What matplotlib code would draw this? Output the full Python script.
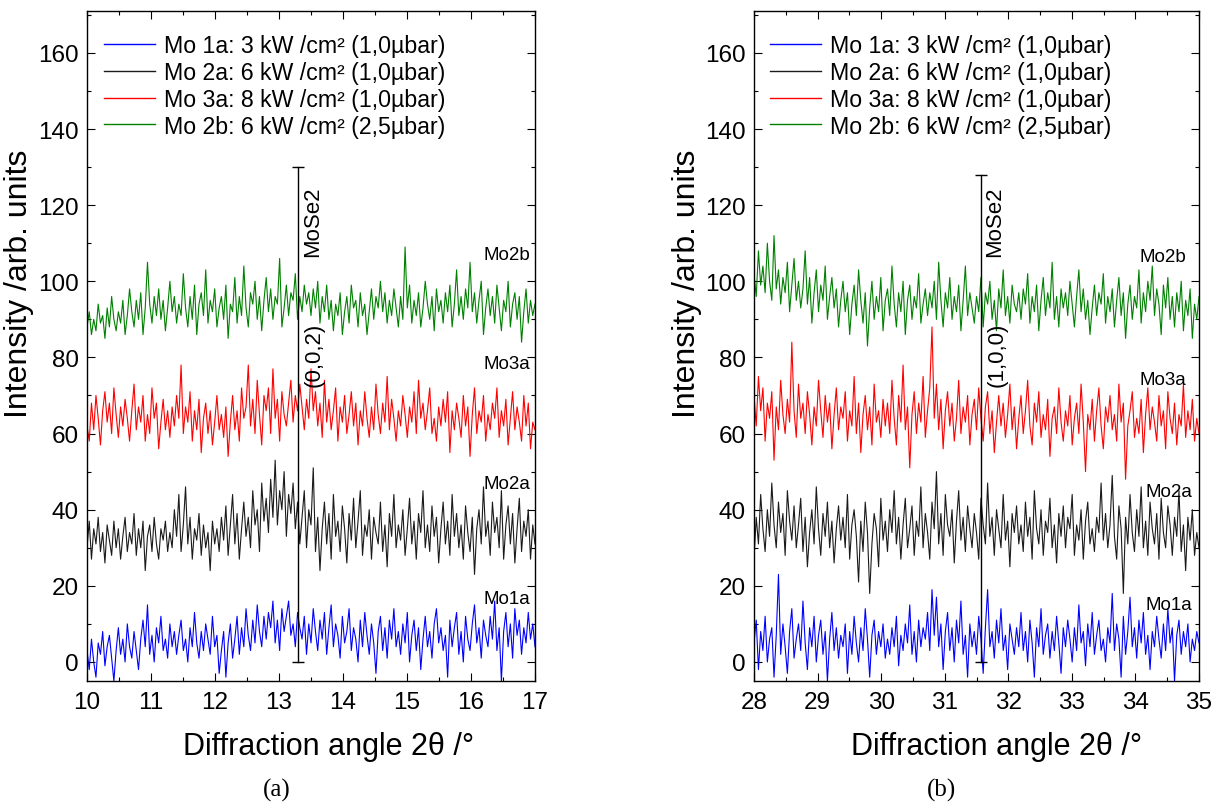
import numpy as np
import matplotlib
matplotlib.use("Agg")
import matplotlib.pyplot as plt
from matplotlib.ticker import MultipleLocator

plt.rcParams['font.family'] = ['Liberation Sans', 'DejaVu Sans']

# ---- scan ranges (2theta, degrees) ----
range_a = (10.0, 17.0)
range_b = (28.0, 35.0)
step = 0.035

# ---- panel (a): 10-17 deg ----
mo1a_a = [3, -2, 6, 0, -4, 5, 2, 8, -1, 4, 7, 1, -5, 3, 9, 2, 6, 0, 10, 4,
          1, 8, 3, -2, 6, 11, 4, 15, 2, 7, 0, 9, 5, 12, 3, 6, 1, 10, 4, 8,
          2, 7, 11, 3, 6, 0, 9, 4, 13, 5, 1, 8, 3, 10, 6, 2, 12, 4, 7, -3,
          3, 8, -4, 5, 10, 1, 6, 12, 2, 9, 4, 14, 7, 3, 11, 5, 15, 8, 4, 12,
          6, 13, 9, 16, 5, 11, 3, 14, 8, 12, 16, 7, 10, 4, 13, 9, 6, 12, 2, 10,
          5, 14, 8, 3, 11, 6, 13, 2, 9, 15, 4, 10, 7, 1, 12, 5, 8, 14, 3, 9,
          6, 0, 11, 4, 13, 7, 2, 10, 5, -3, 8, 12, 3, 9, 1, 11, 6, 14, 4, 8,
          2, 10, 5, 13, 0, 7, 11, 3, 9, -2, 6, 12, 4, 8, 1, 10, 14, 5, 9, 3,
          7, -4, 11, 4, 9, 13, 2, 8, 0, 12, 6, 3, 10, 15, 5, 9, 1, 11, 7, 4,
          12, 6, 16, 3, 9, -5, 8, 13, 4, 10, 1, 14, 7, 11, 2, 9, 5, 13, 6, 10,
          4]
mo2a_a = [30, 37, 27, 35, 31, 38, 29, 34, 26, 36, 32, 28, 37, 30, 35, 27, 33, 38, 29, 34,
          31, 39, 28, 35, 30, 37, 24, 33, 36, 29, 38, 31, 27, 35, 32, 37, 29, 34, 30, 40,
          33, 44, 29, 36, 46, 31, 38, 27, 35, 32, 39, 28, 36, 30, 34, 24, 37, 31, 35, 29,
          38, 32, 41, 28, 36, 44, 31, 39, 27, 35, 42, 33, 38, 30, 45, 36, 40, 29, 47, 37,
          43, 34, 48, 38, 53, 36, 45, 40, 50, 33, 44, 39, 47, 35, 42, 31, 38, 45, 30, 40,
          36, 51, 29, 38, 24, 35, 42, 31, 39, 27, 44, 33, 37, 29, 41, 35, 26, 39, 32, 43,
          30, 37, 45, 28, 36, 33, 40, 27, 38, 34, 31, 42, 29, 36, 25, 39, 33, 44, 30, 36,
          32, 40, 28, 35, 43, 31, 37, 27, 39, 34, 45, 30, 36, 29, 41, 33, 38, 26, 35, 42,
          31, 37, 28, 44, 33, 39, 30, 36, 27, 41, 34, 29, 38, 23, 35, 40, 31, 46, 33, 37,
          28, 42, 34, 38, 30, 45, 27, 36, 41, 31, 39, 26, 35, 43, 29, 37, 33, 40, 27, 36,
          31]
mo3a_a = [62, 58, 68, 61, 70, 64, 57, 66, 71, 63, 68, 60, 72, 65, 59, 67, 62, 69, 64, 58,
          66, 73, 61, 67, 63, 70, 58, 65, 60, 72, 64, 68, 56, 63, 69, 61, 66, 59, 67, 62,
          70, 64, 78, 60, 67, 63, 71, 58, 66, 61, 69, 55, 64, 68, 60, 66, 57, 63, 70, 61,
          65, 59, 67, 54, 63, 70, 61, 66, 58, 72, 64, 67, 78, 62, 69, 60, 74, 65, 57, 70,
          66, 72, 60, 77, 64, 69, 58, 71, 65, 62, 68, 74, 63, 70, 66, 73, 67, 61, 69, 64,
          77, 66, 71, 62, 68, 59, 74, 63, 69, 61, 66, 72, 58, 67, 63, 70, 60, 65, 71, 62,
          68, 57, 66, 62, 71, 64, 59, 67, 61, 73, 65, 60, 68, 63, 75, 61, 69, 64, 58, 66,
          62, 70, 65, 59, 67, 63, 71, 60, 74, 64, 68, 61, 66, 72, 60, 64, 58, 67, 62, 69,
          63, 71, 55, 66, 61, 68, 64, 59, 70, 62, 67, 54, 65, 72, 60, 66, 63, 70, 58, 65,
          61, 68, 64, 72, 59, 66, 62, 69, 57, 64, 71, 61, 67, 63, 58, 70, 62, 68, 56, 63,
          61]
mo2b_a = [88, 92, 86, 90, 87, 94, 89, 91, 85, 93, 88, 96, 90, 87, 92, 89, 95, 86, 91, 98,
          92, 88, 95, 90, 97, 86, 93, 105, 94, 89, 96, 91, 98, 90, 95, 87, 93, 100, 92, 96,
          89, 94, 91, 102, 93, 88, 96, 90, 99, 86, 94, 97, 91, 103, 89, 95, 92, 98, 88, 93,
          96, 90, 99, 85, 94, 92, 101, 89, 96, 91, 104, 93, 88, 97, 94, 100, 90, 96, 87, 95,
          101, 92, 98, 90, 96, 94, 106, 88, 93, 99, 91, 97, 95, 102, 90, 96, 92, 99, 94, 97,
          91, 98, 93, 100, 89, 96, 92, 99, 90, 95, 87, 94, 91, 97, 86, 92, 96, 89, 99, 93,
          95, 88, 97, 91, 94, 86, 92, 98, 90, 96, 93, 100, 92, 97, 89, 95, 91, 98, 93, 88,
          96, 90, 109, 93, 99, 89, 95, 91, 97, 88, 93, 100, 94, 90, 96, 87, 98, 92, 95, 89,
          97, 92, 99, 88, 94, 103, 91, 96, 90, 98, 93, 105, 92, 97, 89, 95, 100, 86, 93, 98,
          91, 96, 89, 99, 93, 87, 95, 92, 100, 88, 94, 97, 90, 96, 84, 92, 98, 89, 95, 91,
          94]

# ---- panel (b): 28-35 deg ----
mo1a_b = [5, 11, -2, 8, 3, 12, 0, 6, 9, -4, 7, 23, 2, 10, 4, -3, 8, 14, 1, 6,
          10, 3, 16, 5, -2, 9, 4, 12, 0, 7, 11, 2, 8, -5, 6, 13, 3, 9, 1, 7,
          4, 10, -3, 8, 2, 12, 5, 0, 9, 3, 14, 6, -4, 7, 11, 2, 8, 4, 10, 1,
          6, 2, 9, 4, 12, -1, 7, 3, 10, 5, 15, 2, 8, 0, 11, 4, 9, 6, 13, 3,
          19, 7, 17, 4, 10, -2, 8, 13, 3, 9, 0, 11, 5, 16, 2, 7, -4, 10, 4, 8,
          2, 12, 6, -3, 9, 19, 4, 8, 1, 11, 5, 14, 3, 7, -2, 10, 6, 2, 9, 4,
          13, 3, 8, 0, 11, 5, -4, 9, 4, 14, 2, 7, 10, 1, 8, 3, 12, 5, -3, 9,
          4, 11, 6, 0, 9, 3, 15, 5, 8, -1, 10, 4, 13, 2, 7, 11, 3, 6, 0, 9,
          5, 18, 3, 10, 6, -4, 12, 2, 8, 17, 4, 9, 1, 11, 5, 13, 2, 7, -2, 8,
          4, 12, 6, 1, 10, 3, 14, 5, 9, -5, 7, 11, 2, 8, 4, 10, 0, 6, 3, 8,
          5]
mo2a_b = [27, 38, 31, 44, 35, 29, 40, 33, 47, 36, 30, 42, 34, 39, 28, 45, 37, 32, 41, 30,
          36, 43, 29, 38, 25, 34, 40, 31, 46, 35, 28, 39, 33, 42, 30, 37, 26, 35, 41, 32,
          38, 30, 44, 27, 36, 40, 33, 21, 37, 29, 42, 34, 18, 31, 39, 35, 25, 43, 32, 37,
          29, 40, 34, 45, 31, 38, 27, 36, 43, 30, 35, 41, 28, 37, 33, 46, 30, 39, 34, 27,
          42, 35, 50, 31, 39, 28, 44, 36, 33, 40, 26, 37, 45, 32, 38, 29, 41, 35, 30, 39,
          34, 27, 43, 36, 31, 47, 33, 38, 28, 40, 35, 30, 44, 32, 37, 25, 39, 34, 41, 31,
          36, 29, 42, 33, 38, 27, 45, 35, 31, 40, 28, 37, 34, 43, 30, 36, 26, 39, 33, 41,
          30, 38, 35, 44, 28, 36, 32, 40, 27, 37, 42, 31, 35, 29, 38, 34, 47, 32, 39, 30,
          36, 49, 33, 27, 41, 35, 18, 38, 31, 44, 34, 29, 40, 33, 46, 30, 37, 28, 42, 35,
          31, 39, 27, 43, 34, 30, 41, 36, 28, 38, 33, 45, 29, 36, 24, 38, 32, 40, 28, 34,
          30]
mo3a_b = [70, 62, 75, 66, 72, 58, 68, 64, 71, 53, 67, 61, 74, 65, 60, 69, 63, 84, 66, 59,
          73, 64, 68, 60, 71, 65, 57, 67, 62, 74, 66, 59, 70, 63, 68, 56, 65, 72, 61, 67,
          64, 71, 58, 66, 62, 75, 60, 68, 55, 65, 70, 61, 67, 57, 73, 63, 66, 59, 69, 62,
          68, 60, 74, 64, 57, 70, 63, 78, 61, 67, 51, 65, 71, 60, 68, 63, 75, 59, 66, 72,
          88, 64, 73, 61, 69, 56, 66, 71, 62, 68, 58, 64, 74, 60, 67, 63, 70, 57, 65, 69,
          61, 72, 64, 58, 67, 71, 60, 66, 55, 63, 70, 62, 68, 59, 65, 73, 61, 67, 56, 64,
          70, 60, 66, 74, 62, 57, 68, 63, 71, 59, 65, 61, 69, 54, 64, 67, 60, 72, 63, 58,
          66, 62, 70, 57, 64, 68, 60, 73, 63, 50, 65, 61, 69, 58, 66, 72, 62, 56, 67, 63,
          70, 61, 65, 58, 73, 63, 68, 48, 62, 66, 71, 59, 64, 60, 69, 55, 65, 72, 61, 67,
          63, 58, 70, 62, 66, 56, 71, 64, 60, 68, 57, 65, 62, 73, 59, 66, 61, 69, 58, 64,
          60]
mo2b_b = [102, 96, 108, 99, 104, 97, 110, 100, 95, 112, 98, 103, 94, 101, 97, 105, 92, 99, 106, 95,
          100, 93, 98, 108, 94, 101, 89, 97, 103, 92, 99, 95, 104, 90, 96, 101, 93, 98, 88, 95,
          100, 92, 97, 86, 94, 99, 91, 103, 95, 89, 97, 83, 93, 100, 90, 96, 92, 101, 87, 95,
          98, 91, 104, 94, 88, 97, 92, 100, 86, 95, 99, 90, 96, 93, 102, 89, 94, 98, 91, 97,
          93, 100, 90, 105, 95, 88, 97, 93, 101, 90, 96, 92, 99, 87, 95, 104, 91, 97, 93, 89,
          96, 92, 101, 88, 97, 94, 100, 90, 95, 87, 98, 93, 103, 91, 96, 89, 99, 94, 92, 97,
          90, 98, 94, 102, 89, 96, 92, 99, 87, 95, 101, 91, 97, 93, 105, 90, 96, 88, 98, 93,
          97, 91, 100, 94, 88, 96, 103, 92, 98, 90, 95, 86, 93, 99, 91, 97, 94, 102, 89, 96,
          92, 98, 88, 95, 101, 91, 97, 85, 94, 99, 90, 96, 93, 103, 89, 97, 92, 100, 95, 104,
          91, 98, 94, 86, 99, 93, 101, 90, 96, 88, 97, 92, 100, 87, 95, 91, 98, 85, 94, 90,
          96]

legend_labels = ["Mo 1a: 3 kW /cm\u00b2 (1,0\u00b5bar)",
                 "Mo 2a: 6 kW /cm\u00b2 (1,0\u00b5bar)",
                 "Mo 3a: 8 kW /cm\u00b2 (1,0\u00b5bar)",
                 "Mo 2b: 6 kW /cm\u00b2 (2,5\u00b5bar)"]
series_tags = ["Mo1a", "Mo2a", "Mo3a", "Mo2b"]
colors = ["#0000ff", "#1a1a1a", "#ff0000", "#008000"]

# reference reflections: position, marker height, index label
ref_a = (13.30, 130, "(0,0,2)")
ref_b = (31.57, 128, "(1,0,0)")
phase = "MoSe2"

xticks_a = [10, 11, 12, 13, 14, 15, 16, 17]
xticks_b = [28, 29, 30, 31, 32, 33, 34, 35]
yticks = [0, 20, 40, 60, 80, 100, 120, 140, 160]

fig = plt.figure(figsize=(12.16, 8.03), dpi=100)
ax_a = fig.add_axes([87 / 1216, 1 - 682 / 803, 448 / 1216, 670 / 803])
ax_b = fig.add_axes([754 / 1216, 1 - 682 / 803, 445 / 1216, 670 / 803])


def draw_panel(ax, xr, data, ref, xticks, tag_pos, leg_x, caption, cap_x,
               xlab_x, ylab_x):
    x = xr[0] + step * np.arange(len(data[0]))
    for y, c, lab in zip(data, colors, legend_labels):
        ax.plot(x, y, color=c, lw=0.8, label=lab)
    ax.set_xlim(*xr)
    ax.set_ylim(-5, 171)
    ax.set_xticks(xticks)
    ax.set_yticks(yticks)
    ax.xaxis.set_minor_locator(MultipleLocator(0.5))
    ax.yaxis.set_minor_locator(MultipleLocator(10))
    ax.tick_params(which='both', direction='in', top=True, right=True,
                   width=0.8, labelsize=17.5)
    ax.tick_params(which='major', length=6)
    ax.tick_params(which='minor', length=3)
    ax.tick_params(axis='x', pad=7)
    ax.tick_params(axis='y', pad=6)
    for s in ax.spines.values():
        s.set_linewidth(1.0)
    ax.set_xlabel("Diffraction angle 2\u03b8 /\u00b0", fontsize=22)
    ax.set_ylabel("Intensity /arb. units", fontsize=23)
    ax.xaxis.set_label_coords(xlab_x, -0.075)
    ax.yaxis.set_label_coords(ylab_x, 0.595)

    # reflection marker with end caps
    pos, height, idx = ref
    ax.plot([pos, pos], [0, height], color='black', lw=1.0)
    ax.plot([pos, pos], [0, height], ls='none', marker='_', ms=9,
            mew=1.0, color='black')
    ax.text(pos + 0.22, 116, phase, rotation=90, fontsize=16,
            ha='center', va='center')
    ax.text(pos + 0.25, 81, idx, rotation=90, fontsize=16,
            ha='center', va='center')

    for tag, (tx, ty) in zip(series_tags, tag_pos):
        ax.text(tx, ty, tag, fontsize=13.5, ha='right', va='center')

    leg = ax.legend(loc='upper left', bbox_to_anchor=(leg_x, 0.966),
                    frameon=False, fontsize=16.7, handlelength=2.2,
                    handletextpad=0.4, labelspacing=0.17,
                    borderaxespad=0, borderpad=0)
    for h in leg.get_lines():
        h.set_linewidth(1.0)
    fig.text(cap_x, 1 - 790 / 803, caption, fontsize=18,
             family='Liberation Serif', ha='center', va='center')


draw_panel(ax_a, range_a, [mo1a_a, mo2a_a, mo3a_a, mo2b_a], ref_a, xticks_a,
           [(16.93, 16.8), (16.92, 46.8), (16.93, 78.3), (16.93, 107)],
           0.038, "(a)", 277 / 1216, 0.54, -0.118)
draw_panel(ax_b, range_b, [mo1a_b, mo2a_b, mo3a_b, mo2b_b], ref_b, xticks_b,
           [(34.89, 15), (34.89, 44.9), (34.80, 74.3), (34.80, 106.4)],
           0.035, "(b)", 942 / 1216, 0.546, -0.117)

fig.savefig("out.png", dpi=100)
